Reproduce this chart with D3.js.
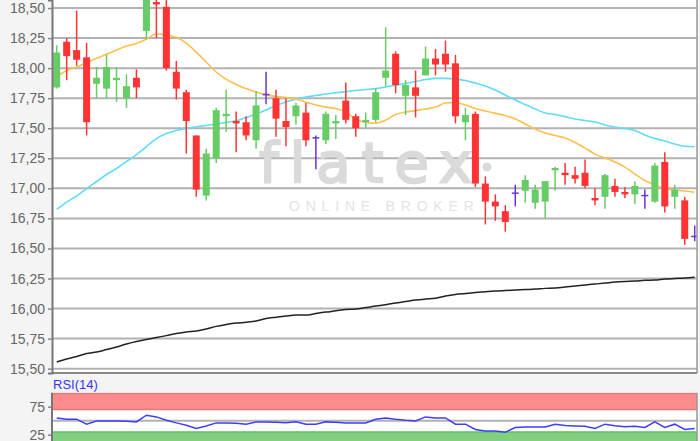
<!DOCTYPE html>
<html><head><meta charset="utf-8">
<script src="https://cdn.jsdelivr.net/npm/d3@7"></script>
<style>html,body{margin:0;padding:0;background:#f4f4f4;overflow:hidden}</style>
</head><body>
<svg id="c" width="700" height="441"></svg>
<script>
// ---- data (daily candles, oldest -> newest) ----
const open  = [17.84,18.22,18.15,18.09,17.87,17.83,17.90,17.75,17.92,18.31,18.55,18.51,17.97,17.80,17.44,16.94,17.25,17.60,17.56,17.55,17.40,17.78,17.75,17.56,17.60,17.63,17.42,17.40,17.54,17.73,17.60,17.55,17.57,17.92,18.12,17.77,17.84,17.94,18.08,18.12,18.04,17.55,17.62,17.04,16.89,16.81,16.96,16.98,16.88,16.89,17.15,17.13,17.11,17.13,16.92,16.93,17.02,16.97,16.95,16.94,16.89,17.22,16.93,16.90,16.60];
const high  = [18.19,18.25,18.48,18.21,18.01,18.11,18.01,17.95,17.99,18.70,18.60,18.58,18.06,17.82,17.44,17.33,17.67,17.82,17.64,17.60,17.81,17.97,17.82,17.75,17.71,17.71,17.44,17.64,17.61,17.88,17.62,17.63,17.83,18.34,18.14,17.90,17.98,18.18,18.16,18.23,18.11,17.67,17.64,17.10,16.95,16.86,17.03,17.11,17.03,17.06,17.18,17.21,17.18,17.24,17.00,17.12,17.08,17.01,17.06,16.99,17.21,17.30,17.03,16.93,16.69];
const low   = [17.83,17.90,18.02,17.44,17.75,17.75,17.72,17.67,17.75,18.24,18.25,17.98,17.74,17.29,16.93,16.90,17.21,17.47,17.30,17.40,17.33,17.70,17.43,17.35,17.53,17.35,17.16,17.37,17.41,17.54,17.43,17.50,17.55,17.85,17.79,17.61,17.59,17.94,17.94,17.97,17.54,17.40,17.01,16.70,16.73,16.64,16.85,16.88,16.83,16.75,16.98,17.03,17.04,17.00,16.86,16.83,16.93,16.92,16.87,16.83,16.88,16.80,16.83,16.53,16.56];
const close = [18.13,18.10,18.07,17.55,17.92,18.01,17.92,17.85,17.84,18.62,18.53,18.00,17.83,17.56,16.99,17.29,17.65,17.62,17.54,17.44,17.69,17.78,17.58,17.51,17.69,17.40,17.42,17.62,17.56,17.57,17.50,17.57,17.80,17.98,17.86,17.86,17.77,18.08,18.03,18.03,17.60,17.61,17.04,16.89,16.85,16.72,16.96,17.07,16.99,17.06,17.17,17.11,17.08,17.02,16.90,17.11,16.97,16.95,17.02,16.94,17.19,16.85,16.99,16.58,16.60];
const sma20 = [17.93,17.98,18.01,18.045,18.082,18.115,18.151,18.184,18.206,18.242,18.284,18.275,18.255,18.209,18.134,18.051,17.968,17.909,17.864,17.830,17.801,17.780,17.764,17.755,17.743,17.718,17.693,17.676,17.664,17.635,17.577,17.548,17.543,17.568,17.614,17.635,17.647,17.660,17.676,17.710,17.714,17.693,17.664,17.643,17.624,17.606,17.577,17.535,17.493,17.460,17.439,17.419,17.381,17.335,17.285,17.252,17.219,17.177,17.119,17.065,17.028,16.998,16.986,16.978,16.967];
const sma50 = [16.825,16.886,16.936,16.998,17.057,17.115,17.165,17.223,17.281,17.348,17.414,17.456,17.481,17.499,17.512,17.523,17.535,17.548,17.562,17.589,17.618,17.652,17.689,17.718,17.743,17.760,17.772,17.785,17.795,17.805,17.814,17.822,17.830,17.843,17.859,17.872,17.889,17.905,17.915,17.915,17.909,17.897,17.876,17.851,17.818,17.776,17.735,17.697,17.660,17.627,17.614,17.597,17.577,17.564,17.552,17.527,17.510,17.498,17.481,17.444,17.414,17.394,17.369,17.350,17.346];
const sma200= [15.555,15.580,15.601,15.626,15.638,15.659,15.680,15.705,15.726,15.742,15.759,15.775,15.792,15.805,15.813,15.830,15.852,15.867,15.879,15.886,15.896,15.917,15.928,15.938,15.946,15.946,15.959,15.971,15.981,15.992,15.996,16.008,16.021,16.032,16.046,16.058,16.071,16.079,16.085,16.104,16.117,16.125,16.133,16.140,16.146,16.150,16.154,16.158,16.162,16.168,16.172,16.179,16.187,16.196,16.204,16.212,16.221,16.226,16.229,16.235,16.237,16.246,16.250,16.254,16.260];
const rsi   = [55.0,52.7,52.7,43.8,49.6,49.6,49.6,49.1,47.9,59.8,56.8,50.9,46.1,42.0,36.1,40.7,46.1,46.1,45.5,43.8,47.9,47.9,47.3,46.4,47.9,43.8,43.8,47.9,47.3,46.1,46.1,46.1,52.7,55.0,52.7,50.9,49.6,56.8,55.0,55.0,43.8,43.8,34.3,31.8,31.8,29.5,37.9,38.9,38.9,38.9,43.8,41.4,40.7,40.2,36.1,43.8,41.1,39.3,40.2,37.9,47.9,37.9,43.8,34.3,36.1];
const priceTicks = [15.50,15.75,16.00,16.25,16.50,16.75,17.00,17.25,17.50,17.75,18.00,18.25,18.50];
const rsiTicks = [25,75];
const rsiLabel = "RSI(14)";

// ---- layout ----
const PL=52, PR=697, PT=0, PB=373;
const RT=392.7, RB=441;
const svg=d3.select("#c");
const idx=d3.range(open.length);
const x=d3.scalePoint().domain(idx).range([56.7,694.7]);
const y=d3.scaleLinear().domain([15.464,18.567]).range([PB,PT]);
const yr=d3.scaleLinear().domain([0,100]).range([448.7,RT]);
const loc=d3.formatLocale({decimal:",",thousands:".",grouping:[3],currency:["","€"]});
const fmt=loc.format(".2f");
const FONT="'Liberation Sans', Arial, sans-serif";

svg.append("rect").attr("width",700).attr("height",441).attr("fill","#f4f4f4");
const defs=svg.append("defs");
defs.append("clipPath").attr("id","pc").append("rect").attr("x",PL).attr("y",PT).attr("width",PR-PL).attr("height",PB-PT);
defs.append("clipPath").attr("id","rc").append("rect").attr("x",PL).attr("y",RT).attr("width",PR-PL).attr("height",RB-RT+10);

// main panel
svg.append("rect").attr("x",PL).attr("y",PT).attr("width",PR-PL).attr("height",PB-PT).attr("fill","#fff");
svg.append("g").selectAll("line").data(priceTicks).join("line")
  .attr("x1",PL).attr("x2",PR).attr("y1",d=>y(d)).attr("y2",d=>y(d))
  .attr("stroke","#b2b2b2").attr("stroke-width",2);

// watermark
const wm=svg.append("g");
wm.append("text").attr("x",259).attr("y",182).text("flatex")
  .attr("font-family","'DejaVu Sans', sans-serif").attr("font-size",56)
  .attr("letter-spacing",11).attr("fill","#dadada").attr("stroke","#dadada").attr("stroke-width",2.2);
wm.append("circle").attr("cx",487).attr("cy",167).attr("r",4.5).attr("fill","#dadada");
wm.append("text").attr("x",289).attr("y",211).text("ONLINE BROKER")
  .attr("font-family",FONT).attr("font-size",14).attr("letter-spacing",5.8).attr("fill","#e4e4e4");

const gp=svg.append("g").attr("clip-path","url(#pc)");
const line=arr=>d3.line().x((d,i)=>x(i)).y(d=>y(d)).curve(d3.curveMonotoneX)(arr);
gp.append("path").attr("d",line(sma200)).attr("fill","none").attr("stroke","#222").attr("stroke-width",1.5);
gp.append("path").attr("d",line(sma50)).attr("fill","none").attr("stroke","#5fdcfa").attr("stroke-width",1.6);
gp.append("path").attr("d",line(sma20)).attr("fill","none").attr("stroke","#ffbf4d").attr("stroke-width",1.6);

const col=i=>close[i]>open[i]?"#66cc66":(close[i]<open[i]?"#ff3333":"#6a35d6");
const bw=7;
const cg=gp.append("g");
cg.selectAll("line.w").data(idx).join("line").attr("class","w")
  .attr("x1",i=>x(i)).attr("x2",i=>x(i)).attr("y1",i=>y(high[i])).attr("y2",i=>y(low[i]))
  .attr("stroke",col).attr("stroke-width",1.5);
cg.selectAll("rect.b").data(idx.filter(i=>close[i]!==open[i])).join("rect").attr("class","b")
  .attr("x",i=>x(i)-bw/2).attr("width",bw)
  .attr("y",i=>y(Math.max(open[i],close[i])))
  .attr("height",i=>Math.max(1.5,Math.abs(y(open[i])-y(close[i]))))
  .attr("fill",col);
cg.selectAll("line.d").data(idx.filter(i=>close[i]===open[i])).join("line").attr("class","d")
  .attr("x1",i=>x(i)-bw/2).attr("x2",i=>x(i)+bw/2).attr("y1",i=>y(open[i])).attr("y2",i=>y(open[i]))
  .attr("stroke",col).attr("stroke-width",1.5);

// main borders
svg.append("line").attr("x1",PR).attr("x2",PR).attr("y1",PT).attr("y2",PB).attr("stroke","#999").attr("stroke-width",1.5);
svg.append("line").attr("x1",PL).attr("x2",PR).attr("y1",PB).attr("y2",PB).attr("stroke","#888").attr("stroke-width",2);
const ax=svg.append("g").attr("transform",`translate(${PL},0)`)
  .call(d3.axisLeft(y).tickValues(priceTicks).tickFormat(fmt).tickSize(4).tickPadding(3));
ax.select(".domain").attr("stroke","#777").attr("stroke-width",2);
ax.selectAll(".tick line").attr("stroke","#888").attr("stroke-width",1.5);
ax.selectAll("text").attr("font-family",FONT).attr("font-size",14).attr("fill","#666");

// RSI panel
svg.append("text").attr("x",53).attr("y",389).text(rsiLabel)
  .attr("font-family",FONT).attr("font-size",13).attr("fill","#3333ff");
svg.append("rect").attr("x",PL).attr("y",RT).attr("width",PR-PL).attr("height",RB-RT).attr("fill","#fff");
const gr=svg.append("g").attr("clip-path","url(#rc)");
gr.append("rect").attr("x",PL).attr("width",PR-PL).attr("y",yr(100)).attr("height",yr(70)-yr(100)).attr("fill","#ff8c8c");
gr.append("line").attr("x1",PL).attr("x2",PR).attr("y1",yr(70)).attr("y2",yr(70)).attr("stroke","#e87878").attr("stroke-width",1.5);
gr.append("line").attr("x1",PL).attr("x2",PR).attr("y1",yr(100)+0.8).attr("y2",yr(100)+0.8).attr("stroke","#e87878").attr("stroke-width",1.5);
gr.append("rect").attr("x",PL).attr("width",PR-PL).attr("y",yr(30)).attr("height",yr(0)-yr(30)).attr("fill","#80d080");
gr.append("line").attr("x1",PL).attr("x2",PR).attr("y1",yr(30)).attr("y2",yr(30)).attr("stroke","#62bf62").attr("stroke-width",1.5);
gr.append("line").attr("x1",PL).attr("x2",PR).attr("y1",yr(50)).attr("y2",yr(50)).attr("stroke","#b2b2b2").attr("stroke-width",2);
gr.append("path").attr("d",d3.line().x((d,i)=>x(i)).y(d=>yr(d))(rsi)).attr("fill","none").attr("stroke","#3d3dff").attr("stroke-width",1.5);
svg.append("line").attr("x1",PR).attr("x2",PR).attr("y1",RT).attr("y2",RB).attr("stroke","#999").attr("stroke-width",1.5);
const ar=svg.append("g").attr("transform",`translate(${PL},0)`)
  .call(d3.axisLeft(yr).tickValues(rsiTicks).tickSize(4).tickPadding(3));
ar.select(".domain").remove();
svg.append("line").attr("x1",PL).attr("x2",PL).attr("y1",RT).attr("y2",RB).attr("stroke","#777").attr("stroke-width",2);
ar.selectAll(".tick line").attr("stroke","#888").attr("stroke-width",1.5);
ar.selectAll("text").attr("font-family",FONT).attr("font-size",14).attr("fill","#666");
</script>
</body></html>
